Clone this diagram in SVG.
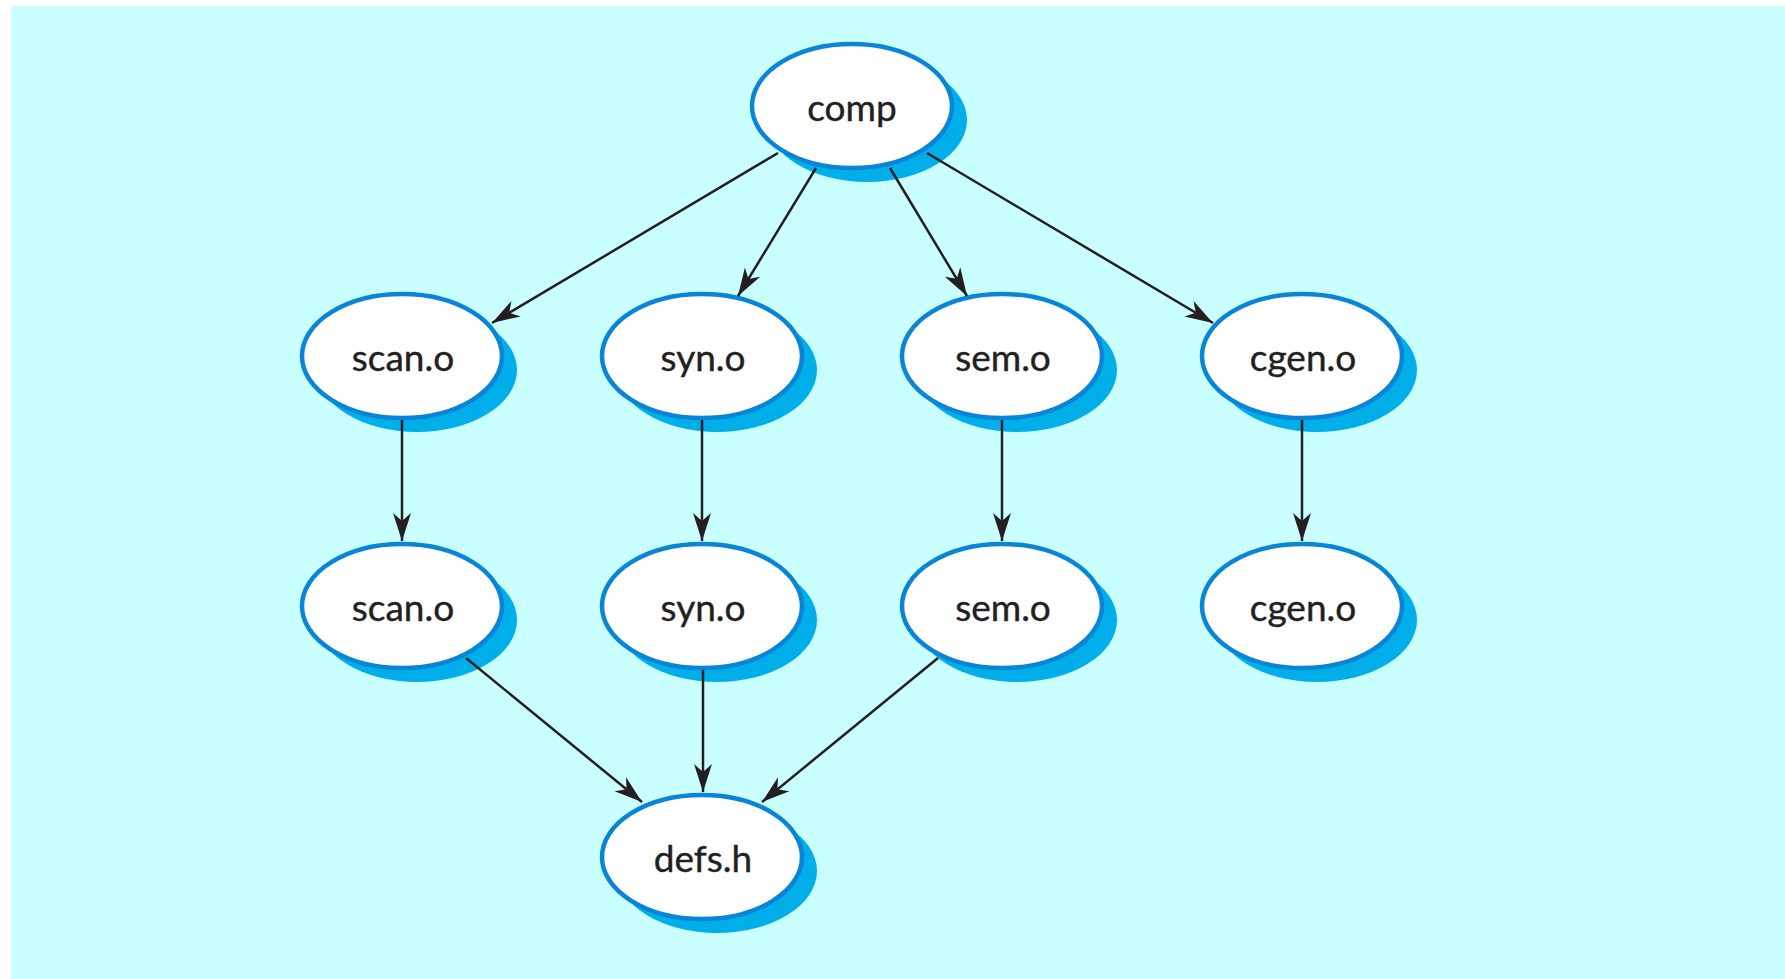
<svg xmlns="http://www.w3.org/2000/svg" width="1785" height="979" viewBox="0 0 1785 979">
<style>
.shadow{fill:#00aeea;}
.node{fill:#ffffff;stroke:#0a84d6;stroke-width:4.5;}
.label{font-family:Lato,"Open Sans","Liberation Sans",sans-serif;font-size:37px;fill:#231f20;text-anchor:middle;stroke:#231f20;stroke-width:0.4;}
.edge{stroke:#231f20;stroke-width:2.5;fill:none;marker-end:url(#arrow);}
</style>
<defs>
<marker id="arrow" markerUnits="userSpaceOnUse" viewBox="-29 -10 30 20" refX="0" refY="0" markerWidth="30" markerHeight="20" orient="auto">
<path d="M0,0 L-28,-9 L-20,0 L-28,9 Z" fill="#231f20"/>
</marker>
</defs>
<rect x="11" y="6" width="1774" height="973" fill="#c9ffff"/>
<g id="comp"><ellipse class="shadow" cx="867" cy="120" rx="100" ry="62"/><ellipse class="node" cx="852" cy="106" rx="100" ry="62"/><text class="label" x="852" y="121">comp</text></g>
<g id="scan1"><ellipse class="shadow" cx="417" cy="370" rx="100" ry="62"/><ellipse class="node" cx="402" cy="356" rx="100" ry="62"/><text class="label" x="403" y="371">scan.o</text></g>
<g id="syn1"><ellipse class="shadow" cx="717" cy="370" rx="100" ry="62"/><ellipse class="node" cx="702" cy="356" rx="100" ry="62"/><text class="label" x="703" y="371">syn.o</text></g>
<g id="sem1"><ellipse class="shadow" cx="1017" cy="370" rx="100" ry="62"/><ellipse class="node" cx="1002" cy="356" rx="100" ry="62"/><text class="label" x="1003" y="371">sem.o</text></g>
<g id="cgen1"><ellipse class="shadow" cx="1317" cy="370" rx="100" ry="62"/><ellipse class="node" cx="1302" cy="356" rx="100" ry="62"/><text class="label" x="1303" y="371">cgen.o</text></g>
<g id="scan2"><ellipse class="shadow" cx="417" cy="620" rx="100" ry="62"/><ellipse class="node" cx="402" cy="606" rx="100" ry="62"/><text class="label" x="403" y="621">scan.o</text></g>
<g id="syn2"><ellipse class="shadow" cx="717" cy="620" rx="100" ry="62"/><ellipse class="node" cx="702" cy="606" rx="100" ry="62"/><text class="label" x="703" y="621">syn.o</text></g>
<g id="sem2"><ellipse class="shadow" cx="1017" cy="620" rx="100" ry="62"/><ellipse class="node" cx="1002" cy="606" rx="100" ry="62"/><text class="label" x="1003" y="621">sem.o</text></g>
<g id="cgen2"><ellipse class="shadow" cx="1317" cy="620" rx="100" ry="62"/><ellipse class="node" cx="1302" cy="606" rx="100" ry="62"/><text class="label" x="1303" y="621">cgen.o</text></g>
<g id="defs_h"><ellipse class="shadow" cx="717" cy="871" rx="100" ry="62"/><ellipse class="node" cx="702" cy="857" rx="100" ry="62"/><text class="label" x="703" y="872">defs.h</text></g>
<g id="connectors">
<line class="edge" x1="778" y1="153" x2="492" y2="323"/>
<line class="edge" x1="816" y1="168" x2="738" y2="296"/>
<line class="edge" x1="890" y1="168" x2="967" y2="296"/>
<line class="edge" x1="927" y1="153" x2="1213" y2="323"/>
<line class="edge" x1="402" y1="420" x2="402" y2="541"/>
<line class="edge" x1="702" y1="420" x2="702" y2="541"/>
<line class="edge" x1="1002" y1="420" x2="1002" y2="541"/>
<line class="edge" x1="1302" y1="420" x2="1302" y2="541"/>
<line class="edge" x1="466" y1="658" x2="642" y2="802"/>
<line class="edge" x1="703" y1="670" x2="703" y2="792"/>
<line class="edge" x1="938" y1="658" x2="762" y2="802"/>
</g>
</svg>
